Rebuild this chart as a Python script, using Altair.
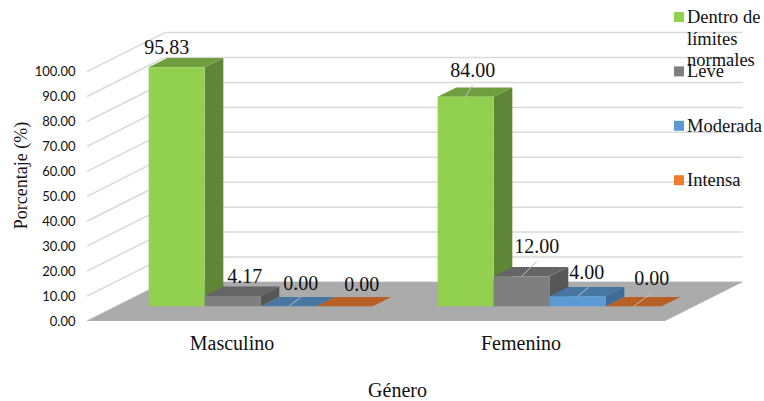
import altair as alt
import pandas as pd

# Values per gender and severity
generos = ["Masculino", "Femenino"]
series = ["Dentro de\nlímites\nnormales", "Leve", "Moderada", "Intensa"]
masculino = [95.83, 4.17, 0.00, 0.00]
femenino = [84.00, 12.00, 4.00, 0.00]
ticks = [0, 10, 20, 30, 40, 50, 60, 70, 80, 90, 100]

# Face shades per series: front, side, top
front = ["#92D050", "#7F7F7F", "#5B9BD5", "#ED7D31"]
side = ["#5F8636", "#575757", "#3F6C95", "#A55722"]
top = ["#6F9E3F", "#656565", "#4877A3", "#B85F25"]
swatch = front

# Pixel scale of the plot and oblique projection of the depth axis
PX_CAT = 289.0
PX_PCT = 2.494
WIDTH, HEIGHT = 656, 289
LEFT, TOP = 87, 32
DEPTH_X = 77.7 / PX_CAT
DEPTH_Y = 39.0 / PX_PCT
X_MAX = WIDTH / PX_CAT
Y_MAX = HEIGHT / PX_PCT

BAR_GAP = 0.112
BAR_W = 0.1938
D0, D1 = 0.377, 0.617


def px(cat, depth):
    return cat + depth * DEPTH_X


def py(val, depth):
    return val + depth * DEPTH_Y


fronts, sides, tops = [], [], []
for g, vals in enumerate([masculino, femenino]):
    for s, v in enumerate(vals):
        c0 = g + BAR_GAP + s * BAR_W
        c1 = c0 + BAR_W
        bar = f"{g}-{s}"
        fronts.append(dict(x=px(c0, D0), x2=px(c1, D0), y=py(0, D0), y2=py(v, D0), c=front[s]))
        for d in (D0, D1):
            sides.append(dict(bar=bar, x=px(c1, d), y=py(0, d), y2=py(v, d), c=side[s]))
            tops.append(dict(bar=bar, x=px(c0, d), x2=px(c1, d), y=py(v, d), c=top[s]))

fronts, sides, tops = map(pd.DataFrame, (fronts, sides, tops))

floor = pd.DataFrame(
    [dict(x=px(0, d), x2=px(2, d), y=py(0, d)) for d in (0, 1)]
)
grid_diag = pd.DataFrame(
    [dict(x=0, x2=DEPTH_X, y=t, y2=py(t, 1)) for t in ticks]
)
grid_back = pd.DataFrame(
    [dict(x=DEPTH_X, x2=2 + DEPTH_X, y=py(t, 1), y2=py(t, 1)) for t in ticks]
)

x_scale = alt.Scale(domain=[0, X_MAX], nice=False, zero=False)
y_scale = alt.Scale(domain=[0, Y_MAX], nice=False, zero=False)

X = alt.X("x:Q", scale=x_scale, axis=None)
Y = alt.Y("y:Q", scale=y_scale, axis=None)
COLOR = alt.Color("c:N", scale=None)

# Axes carried by an invisible layer
axes = (
    alt.Chart(pd.DataFrame({"x": [0.5, 1.5], "y": [0, 0]}))
    .mark_point(opacity=0)
    .encode(
        x=alt.X(
            "x:Q",
            scale=x_scale,
            axis=alt.Axis(
                values=[0.5, 1.5],
                labelExpr=f"datum.value < 1 ? '{generos[0]}' : '{generos[1]}'",
                domain=False,
                ticks=False,
                grid=False,
                labelPadding=12,
                labelFont="Liberation Serif",
                labelFontSize=20,
                labelColor="#111111",
                title="Género",
                titleFont="Liberation Serif",
                titleFontSize=20,
                titleFontWeight="normal",
                titleColor="#111111",
                titleX=310,
                titleY=69,
                titleBaseline="middle",
            ),
        ),
        y=alt.Y(
            "y:Q",
            scale=y_scale,
            axis=alt.Axis(
                values=ticks,
                format=".2f",
                domain=False,
                ticks=False,
                grid=False,
                labelPadding=12,
                labelFont="Lato",
                labelFontSize=13,
                labelColor="#111111",
                title="Porcentaje (%)",
                titleFont="Liberation Serif",
                titleFontSize=18,
                titleFontWeight="normal",
                titleColor="#111111",
                titleX=-66,
                titleY=143,
                titleBaseline="middle",
            ),
        ),
    )
)

grid1 = alt.Chart(grid_diag).mark_rule(color="#D9D9D9", strokeWidth=1.5).encode(
    x=X, x2="x2:Q", y=Y, y2="y2:Q"
)
grid2 = alt.Chart(grid_back).mark_rule(color="#D9D9D9", strokeWidth=1.5).encode(
    x=X, x2="x2:Q", y=Y, y2="y2:Q"
)
floor_layer = alt.Chart(floor).mark_area(orient="horizontal", color="#ABABAB").encode(
    x=X, x2="x2:Q", y=Y
)
side_layer = alt.Chart(sides).mark_area().encode(
    x=X, y=Y, y2="y2:Q", color=COLOR, detail="bar:N"
)
top_layer = alt.Chart(tops).mark_area(orient="horizontal").encode(
    x=X, x2="x2:Q", y=Y, color=COLOR, detail="bar:N"
)
front_layer = alt.Chart(fronts).mark_rect().encode(
    x=X, x2="x2:Q", y=Y, y2="y2:Q", color=COLOR
)

# Data labels: group, series, offset of the text centre from the front-top midpoint (px)
label_place = [
    (0, 0, -10, 19), (0, 1, 12, 19), (0, 2, 12, 22), (0, 3, 17, 21),
    (1, 0, 7, 26), (1, 1, 15, 29), (1, 2, 9, 23), (1, 3, 18, 27),
]
# Leader lines: group, series, start offset and end offset (px)
leader_place = [
    (1, 0, 0, 0, 7, 12),
    (1, 1, 0, 0, 15, 15),
    (1, 2, 0, 0, 11, 9),
    (1, 3, 0, 0, 19, 14),
    (0, 2, 0, 0, 12, 9),
]
values = [masculino, femenino]


def anchor(g, s):
    c = g + BAR_GAP + (s + 0.5) * BAR_W
    v = values[g][s]
    return px(c, D0), py(v, D0), v


labels = []
for g, s, dx, dy in label_place:
    ax, ay, v = anchor(g, s)
    labels.append(dict(x=ax + dx / PX_CAT, y=ay + dy / PX_PCT, t=f"{v:.2f}"))
leaders = []
for g, s, dx0, dy0, dx1, dy1 in leader_place:
    ax, ay, v = anchor(g, s)
    leaders.append(
        dict(x=ax + dx0 / PX_CAT, x2=ax + dx1 / PX_CAT, y=ay + dy0 / PX_PCT, y2=ay + dy1 / PX_PCT)
    )

leader_layer = alt.Chart(pd.DataFrame(leaders)).mark_rule(color="#BFBFBF", strokeWidth=1).encode(
    x=X, x2="x2:Q", y=Y, y2="y2:Q"
)
label_layer = alt.Chart(pd.DataFrame(labels)).mark_text(
    font="Liberation Serif", fontSize=20, color="#111111", baseline="middle"
).encode(x=X, y=Y, text="t:N")

# Hand-set legend, laid out in pixels relative to the plot area
LEG_X, LEG_Y, LEG_STEP, LINE_H = 674 - LEFT, 17 - TOP, 54.4, 21.7
leg_sw = pd.DataFrame(
    [dict(px=LEG_X + 5, py=LEG_Y + i * LEG_STEP, c=swatch[i]) for i in range(len(series))]
)
leg_tx = pd.DataFrame(
    [
        dict(px=LEG_X + 13, py=LEG_Y + i * LEG_STEP + j * LINE_H, t=line)
        for i, name in enumerate(series)
        for j, line in enumerate(name.split("\n"))
    ]
)
PX = alt.X("px:Q", scale=None, axis=None)
PY = alt.Y("py:Q", scale=None, axis=None)
legend_sq = alt.Chart(leg_sw).mark_square(size=100, opacity=1, clip=False).encode(
    x=PX, y=PY, color=COLOR
)
legend_tx = alt.Chart(leg_tx).mark_text(
    font="Liberation Serif", fontSize=18.5, color="#111111", align="left", baseline="middle", clip=False
).encode(x=PX, y=PY, text="t:N")

chart = (
    alt.layer(
        axes, grid1, grid2, floor_layer, side_layer, top_layer, front_layer,
        leader_layer, label_layer, legend_sq, legend_tx,
    )
    .resolve_scale(x="independent", y="independent")
    .properties(
        width=WIDTH,
        height=HEIGHT,
        padding={"left": LEFT, "top": TOP, "right": 764 - LEFT - WIDTH, "bottom": 401 - TOP - HEIGHT},
        autosize=alt.AutoSizeParams(type="none"),
        background="white",
    )
    .configure_view(stroke=None)
)

chart.save("out.html", embed_options={"renderer": "svg", "actions": False})
